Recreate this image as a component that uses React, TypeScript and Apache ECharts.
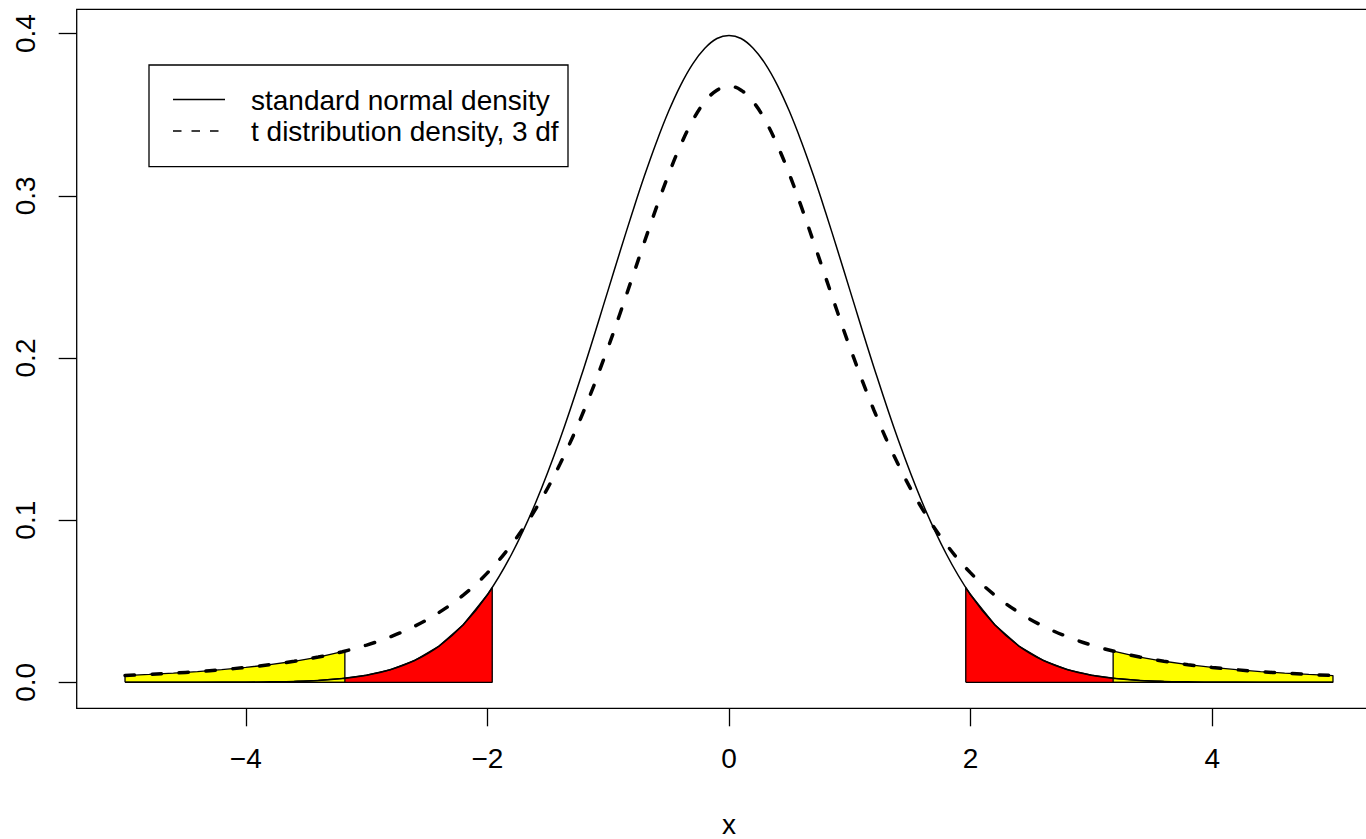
import React, { useEffect, useRef } from "react";
import * as echarts from "echarts";

// x grid (step 0.2, 0.1 near the centre) and densities
const xValues = [
  -5, -4.8, -4.6, -4.4, -4.2, -4, -3.8, -3.6, -3.4, -3.2, -3, -2.8, -2.6, -2.4, -2.2, -2, -1.8, -1.6, -1.4, -1.2,
  -1, -0.9, -0.8, -0.7, -0.6, -0.5, -0.4, -0.3, -0.2, -0.1, 0, 0.1, 0.2, 0.3, 0.4, 0.5, 0.6, 0.7, 0.8, 0.9, 1,
  1.2, 1.4, 1.6, 1.8, 2, 2.2, 2.4, 2.6, 2.8, 3, 3.2, 3.4, 3.6, 3.8, 4, 4.2, 4.4, 4.6, 4.8, 5,
];
const normalDensity = [
  0.0, 0.0, 0.0, 0.0, 0.0001, 0.0001, 0.0003, 0.0006, 0.0012, 0.0024, 0.0044, 0.0079, 0.0136, 0.0224, 0.0355,
  0.054, 0.079, 0.1109, 0.1497, 0.1942, 0.242, 0.2661, 0.2897, 0.3123, 0.3332, 0.3521, 0.3683, 0.3814, 0.391,
  0.397, 0.3989, 0.397, 0.391, 0.3814, 0.3683, 0.3521, 0.3332, 0.3123, 0.2897, 0.2661, 0.242, 0.1942, 0.1497,
  0.1109, 0.079, 0.054, 0.0355, 0.0224, 0.0136, 0.0079, 0.0044, 0.0024, 0.0012, 0.0006, 0.0003, 0.0001, 0.0001,
  0.0, 0.0, 0.0, 0.0,
];
const tDensity = [
  0.0042, 0.0049, 0.0057, 0.0066, 0.0078, 0.0092, 0.0109, 0.013, 0.0156, 0.0189, 0.023, 0.0282, 0.0347, 0.0431,
  0.0538, 0.0675, 0.085, 0.107, 0.1345, 0.1678, 0.2067, 0.2279, 0.2497, 0.2716, 0.293, 0.3132, 0.3313, 0.3465,
  0.358, 0.3651, 0.3676, 0.3651, 0.358, 0.3465, 0.3313, 0.3132, 0.293, 0.2716, 0.2497, 0.2279, 0.2067, 0.1678,
  0.1345, 0.107, 0.085, 0.0675, 0.0538, 0.0431, 0.0347, 0.0282, 0.023, 0.0189, 0.0156, 0.013, 0.0109, 0.0092,
  0.0078, 0.0066, 0.0057, 0.0049, 0.0042,
];

// critical values and densities there
const normalCut = 1.96;
const normalAtCut = 0.0584;
const tCut = 3.18;
const tAtCut = 0.0192;

const xTicks = [-4, -2, 0, 2, 4];
const yTicks = [0, 0.1, 0.2, 0.3, 0.4];

const legendLabels = ["standard normal density", "t distribution density, 3 df"];

const FONT = "'Liberation Sans', Arial, Helvetica, sans-serif";
const FS = 28;

function leftTail(dens: number[], cut: number, atCut: number): number[][] {
  const pts: number[][] = [[xValues[0], 0]];
  xValues.forEach((x, i) => {
    if (x <= -cut) pts.push([x, dens[i]]);
  });
  pts.push([-cut, atCut]);
  pts.push([-cut, 0]);
  pts.push([xValues[0], 0]);
  return pts;
}
function rightTail(dens: number[], cut: number, atCut: number): number[][] {
  const last = xValues[xValues.length - 1];
  const pts: number[][] = [[cut, 0], [cut, atCut]];
  xValues.forEach((x, i) => {
    if (x >= cut) pts.push([x, dens[i]]);
  });
  pts.push([last, 0]);
  pts.push([cut, 0]);
  return pts;
}

export default function App() {
  const ref = useRef<HTMLDivElement>(null);
  useEffect(() => {
    if (!ref.current) return;
    const chart = echarts.init(ref.current, null, { renderer: "svg" });
    const border = { color: "#000", width: 1.3 };
    const areaSeries = (data: number[][], color: string) => ({
      type: "line",
      data,
      symbol: "none",
      smooth: false,
      lineStyle: { color: "#000", width: 1.3 },
      areaStyle: { color, opacity: 1 },
      silent: true,
    });
    chart.setOption({
      animation: false,
      backgroundColor: "#fff",
      textStyle: { fontFamily: FONT },
      grid: {
        left: 76.7,
        top: 9.3,
        width: 1304.6,
        height: 699,
        show: true,
        borderColor: "#000",
        borderWidth: 1.3,
        backgroundColor: "transparent",
        containLabel: false,
        outerBoundsMode: "none",
      },
      xAxis: {
        type: "value",
        min: -5.4,
        max: 5.4,
        name: "x",
        nameLocation: "middle",
        nameGap: 102,
        nameTextStyle: { fontSize: FS, color: "#000", fontFamily: FONT },
        axisLine: { show: false, onZero: false },
        splitLine: { show: false },
        axisTick: { show: true, length: 18, lineStyle: border, customValues: xTicks },
        axisLabel: {
          customValues: xTicks,
          fontSize: FS,
          color: "#000",
          fontFamily: FONT,
          margin: 36,
          formatter: (v: number) => (v < 0 ? "\u2212" + Math.abs(v) : String(v)),
        },
      },
      yAxis: {
        type: "value",
        min: -0.016,
        max: 0.415,
        axisLine: { show: false, onZero: false },
        splitLine: { show: false },
        axisTick: { show: true, length: 18, lineStyle: border, customValues: yTicks },
        axisLabel: {
          customValues: yTicks,
          rotate: 90,
          fontSize: FS,
          color: "#000",
          fontFamily: FONT,
          margin: 37,
          formatter: (v: number) => v.toFixed(1),
        },
      },
      series: [
        areaSeries(leftTail(normalDensity, normalCut, normalAtCut), "#FF0000"),
        areaSeries(rightTail(normalDensity, normalCut, normalAtCut), "#FF0000"),
        areaSeries(leftTail(tDensity, tCut, tAtCut), "#FFFF00"),
        areaSeries(rightTail(tDensity, tCut, tAtCut), "#FFFF00"),
        {
          type: "line",
          name: legendLabels[0],
          data: xValues.map((x, i) => [x, normalDensity[i]]),
          symbol: "none",
          smooth: 0.4,
          lineStyle: { color: "#000", width: 1.5 },
          silent: true,
        },
        {
          type: "line",
          name: legendLabels[1],
          data: xValues.map((x, i) => [x, tDensity[i]]),
          symbol: "none",
          smooth: 0.4,
          lineStyle: { color: "#000", width: 3.5, type: [9.5, 17.5], cap: "round" },
          silent: true,
        },
      ],
      graphic: [
        {
          type: "rect",
          shape: { x: 149, y: 65, width: 419, height: 101.7 },
          style: { fill: "#fff", stroke: "#000", lineWidth: 1.3 },
          z: 100,
        },
        {
          type: "line",
          shape: { x1: 173, y1: 99.5, x2: 225, y2: 99.5 },
          style: { stroke: "#000", lineWidth: 1.5 },
          z: 101,
        },
        {
          type: "line",
          shape: { x1: 173, y1: 131, x2: 225, y2: 131 },
          style: { stroke: "#000", lineWidth: 1.5, lineDash: [8.5, 10] },
          z: 101,
        },
        {
          type: "text",
          x: 251,
          y: 100,
          style: { text: legendLabels[0], font: `${FS}px ${FONT}`, fill: "#000", verticalAlign: "middle" },
          z: 101,
        },
        {
          type: "text",
          x: 251,
          y: 131,
          style: { text: legendLabels[1], font: `${FS}px ${FONT}`, fill: "#000", verticalAlign: "middle" },
          z: 101,
        },
      ],
    });
    return () => chart.dispose();
  }, []);
  return (
    <div
      style={{
        position: "absolute",
        left: 0,
        top: 0,
        width: 1366,
        height: 839,
        overflow: "hidden",
        background: "#fff",
      }}
    >
      <div ref={ref} style={{ width: 1400, height: 839 }} />
    </div>
  );
}
